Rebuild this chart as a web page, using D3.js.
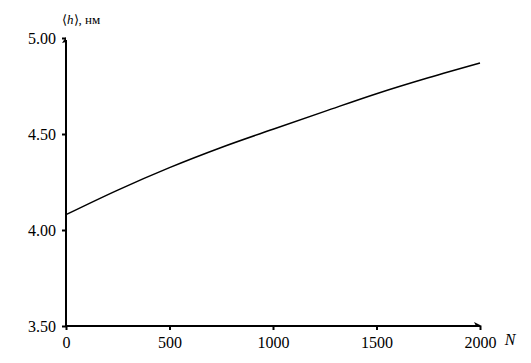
<!DOCTYPE html>
<html>
<head>
<meta charset="utf-8">
<script src="https://cdn.jsdelivr.net/npm/d3@7"></script>
<style>
  body { margin: 0; background: #fff; }
</style>
</head>
<body>
<svg id="chart"></svg>
<script>
// data
const nValues = [0, 250, 500, 750, 1000, 1250, 1500, 1750, 2000]
const hValues = [4.08, 4.208, 4.325, 4.43, 4.525, 4.618, 4.71, 4.793, 4.87]
const xTicks = [0, 500, 1000, 1500, 2000]
const yTicks = [3.5, 4.0, 4.5, 5.0]

const width = 531
const height = 363
const margin = { left: 66, right: 51, top: 38, bottom: 37 }
const serif = 'Liberation Serif'

const svg = d3.select('#chart')
  .attr('width', width)
  .attr('height', height)

const x = d3.scaleLinear().domain([0, 2000]).range([margin.left, width - margin.right])
const y = d3.scaleLinear().domain([3.5, 5.0]).range([height - margin.bottom, margin.top])

// x axis
const xAxis = svg.append('g')
  .attr('transform', 'translate(0,' + y(3.5) + ')')
  .call(d3.axisBottom(x).tickValues(xTicks).tickSize(4).tickSizeOuter(0).tickFormat(d3.format('d')))
xAxis.select('.domain').remove()
xAxis.selectAll('.tick line').attr('stroke', '#000').attr('stroke-width', 2)
xAxis.selectAll('.tick text')
  .style('font-family', serif)
  .style('font-size', '16px')
  .attr('fill', '#000')
  .attr('dy', '0.95em')

// y axis
const yAxis = svg.append('g')
  .attr('transform', 'translate(' + x(0) + ',0)')
  .call(d3.axisLeft(y).tickValues(yTicks).tickSize(4).tickSizeOuter(0).tickFormat(d3.format('.2f')))
yAxis.select('.domain').remove()
yAxis.selectAll('.tick line').attr('stroke', '#000').attr('stroke-width', 2)
yAxis.selectAll('.tick text')
  .style('font-family', serif)
  .style('font-size', '16px')
  .attr('fill', '#000')
  .attr('x', -10)

// axis lines with arrows
svg.append('line')
  .attr('x1', x(0)).attr('y1', y(3.5))
  .attr('x2', x(2000)).attr('y2', y(3.5))
  .attr('stroke', '#000').attr('stroke-width', 2)
svg.append('path')
  .attr('d', `M${x(2000) + 2},${y(3.5)} L${x(2000) - 6},${y(3.5) - 4} L${x(2000) - 4},${y(3.5)} Z`)
  .attr('fill', '#000')

svg.append('line')
  .attr('x1', x(0)).attr('y1', y(3.5))
  .attr('x2', x(0)).attr('y2', y(5.0) + 2)
  .attr('stroke', '#000').attr('stroke-width', 2)
svg.append('path')
  .attr('d', `M${x(0)},${y(5.0) - 1} L${x(0) - 4},${y(5.0) + 5} L${x(0)},${y(5.0) + 4} Z`)
  .attr('fill', '#000')

// axis titles
svg.append('text')
  .attr('x', x(2000) + 30)
  .attr('y', y(3.5) + 4)
  .attr('dy', '0.95em')
  .attr('text-anchor', 'middle')
  .style('font-family', serif)
  .style('font-size', '16px')
  .attr('font-style', 'italic')
  .text('N')

svg.append('text')
  .attr('x', x(0) - 4)
  .attr('y', 24)
  .style('font-family', serif)
  .style('font-size', '13px')
  .html('⟨<tspan font-style="italic">h</tspan>⟩, нм')

// curve
const line = d3.line()
  .x((d, i) => x(nValues[i]))
  .y(d => y(d))
  .curve(d3.curveMonotoneX)

svg.append('path')
  .datum(hValues)
  .attr('d', line)
  .attr('fill', 'none')
  .attr('stroke', '#000')
  .attr('stroke-width', 1.5)
</script>
</body>
</html>
